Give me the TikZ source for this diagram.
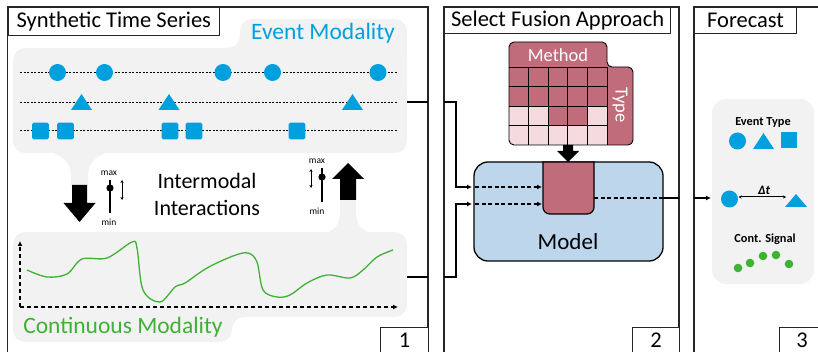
\documentclass[tikz,border=0pt]{standalone}
\usepackage{fontspec}
\setmainfont{Carlito}
\usetikzlibrary{arrows.meta}
\definecolor{evblue}{RGB}{0,160,223}
\definecolor{cgreen}{RGB}{62,178,50}
\definecolor{bggray}{RGB}{242,242,242}
\definecolor{mblue}{RGB}{190,214,236}
\definecolor{pdark}{RGB}{192,108,122}
\definecolor{plight}{RGB}{245,218,222}
\tikzset{
 panel/.style={line width=1.2pt, draw=black!85},
 titlebox/.style={draw=black!85, line width=1.2pt, fill=white, inner sep=0pt, anchor=north west, font=\fontsize{22.5}{26}\selectfont},
 evline/.style={dash pattern=on 2pt off 1.5pt, line width=0.7pt},
 bgfill/.style={fill=bggray},
 arr/.style={-{Latex[length=5pt,width=5pt]}, line width=1.1pt},
 darr/.style={-{Latex[length=5pt,width=5pt]}, line width=1.1pt, dash pattern=on 4pt off 2.5pt},
 axisline/.style={-{Latex[length=5pt,width=5pt]}, line width=1.1pt, dash pattern=on 4pt off 3pt},
 smalltxt/.style={font=\fontsize{9.5}{10}\selectfont, inner sep=0pt},
 dblarr/.style={{Stealth[length=3pt,width=3pt]}-{Stealth[length=3pt,width=3pt]}, line width=0.7pt},
 evtri/.pic={\fill[evblue] (-10.5,8)--(10.5,8)--(0,-8)--cycle;},
 evsq/.pic={\fill[evblue, rounded corners=1.5pt] (-8.3,-8.3) rectangle (8.3,8.3);},
 evcirc/.pic={\fill[evblue] (0,0) circle (8.5pt);},
}
\begin{document}
\begin{tikzpicture}[x=1pt,y=-1pt]
\useasboundingbox (0,0) rectangle (818,352);
\clip (0,0) rectangle (818,352);

% ---------- Panel 1 backgrounds ----------
\path[bgfill, rounded corners=12pt] (13,48) rectangle (407,153);
\path[bgfill, rounded corners=12pt] (240,19) rectangle (407,100);
\path[bgfill] (228,48) .. controls (234.6,48) and (240,42.6) .. (240,36) -- (240,48) -- cycle;
\path[bgfill] (40,150) .. controls (60,153) and (71,160) .. (71,176) -- (71,186) -- (88,186) -- (88,176) .. controls (88,160) and (99,153) .. (118,150) -- cycle;
\path[bgfill, rounded corners=12pt] (13,232) rectangle (407,317);
\path[bgfill, rounded corners=12pt] (13,290) rectangle (232,342);
\path[bgfill] (232,329) .. controls (232,322.4) and (237.4,317) .. (244,317) -- (232,317) -- cycle;
\path[bgfill] (320,235) .. controls (335,232) and (340,224) .. (340,212) -- (340,198) -- (356,198) -- (356,212) .. controls (356,224) and (361,232) .. (377,235) -- cycle;

\node[font=\fontsize{23.5}{26}\selectfont, text=evblue, inner sep=0pt] (evlabel) at (323,33) {Event Modality};
\node[font=\fontsize{23.5}{26}\selectfont, text=cgreen, inner sep=0pt] (ctlabel) at (123,327) {Continuous Modality};

\draw[evline] (20,72) -- (398,72);
\draw[evline] (20,102) -- (398,102);
\draw[evline] (20,130) -- (398,130);
\foreach \x in {57.5,104.5,223,272.5,378} \pic at (\x,72.5) {evcirc};
\foreach \x in {81.5,169,352.5} \pic at (\x,102) {evtri};
\foreach \x in {40.5,65.5,170,194,297} \pic at (\x,131) {evsq};

\coordinate (orig) at (20,307);
\coordinate (xend) at (398,307);
\coordinate (yend) at (20,241);
\draw[axisline] (orig) -- (xend);
\draw[axisline] (orig) -- (yend);
\draw[cgreen, line width=1.3pt] plot[smooth, tension=0.55] coordinates {
(27,270) (47,277) (67,274) (82,259) (107,258) (132,242) (137,248) (143,290) (160,302) (175,287) (185,283) (207,268) (233,256) (248,253) (257,262) (263,290) (277,297) (290,295) (307,283) (327,275) (350,278) (363,270) (377,257) (393,250)};

\fill (72,185) -- (87,185) -- (87,203) -- (95.5,203) -- (79.5,222) -- (63.5,203) -- (72,203) -- cycle;
\fill (340,200) -- (356,200) -- (356,179) -- (364,179) -- (348,163) -- (332,179) -- (340,179) -- cycle;

\draw[line width=2.4pt] (110,180) -- (110,213);
\fill (110,188) circle (3.6pt);
\draw[dblarr] (122,180) -- (122,200);
\node[smalltxt] (max1) at (109,173) {max};
\node[smalltxt] (min1) at (109,222) {min};
\draw[line width=2.4pt] (322,168) -- (322,202);
\fill (322,177) circle (3.6pt);
\draw[dblarr] (311,169) -- (311,188);
\node[smalltxt] (max2) at (317,161) {max};
\node[smalltxt] (min2) at (317,211) {min};

\node[font=\fontsize{22}{27}\selectfont, align=center, inner sep=0pt] (inter) at (207,194) {Intermodal\\Interactions};

% ---------- Panel borders ----------
\draw[panel] (7.5,360) -- (7.5,7) -- (428,7) -- (428,360);
\draw[panel] (444,360) -- (444,7) -- (679,7) -- (679,360);
\draw[panel] (694,360) -- (694,7) -- (830,7);
\node[titlebox, minimum width=211.5pt, minimum height=28pt] (t1) at (7.5,7) {Synthetic Time Series};
\node[titlebox, minimum width=226pt, minimum height=26pt] (t2) at (444,7) {Select Fusion Approach};
\node[titlebox, minimum width=102pt, minimum height=26pt] (t3) at (694,7) {Forecast};
\node[titlebox, minimum width=48pt, minimum height=26pt] (n1) at (380,327) {1};
\node[titlebox, minimum width=47pt, minimum height=26pt] (n2) at (632,327) {2};
\node[titlebox, minimum width=45pt, minimum height=26pt] (n3) at (779,327) {3};

% ---------- Panel 2 ----------
\begin{scope}
\path[clip, rounded corners=5pt] (509,67) -- (509,42) -- (607,42) -- (607,67) -- (633,67) -- (633,145) -- (509,145) -- cycle;
\fill[pdark] (500,30) rectangle (640,150);
\foreach \c in {0,1,4} \fill[plight] (509+19.6*\c,106) rectangle (509+19.6*\c+19.6,125.5);
\fill[plight] (509,125.5) rectangle (607,150);
\end{scope}
\foreach \k in {1,2,3,4} \draw[line width=0.9pt] (509+19.6*\k,67) -- (509+19.6*\k,145);
\foreach \j in {0,1,2,3} \draw[line width=0.9pt] (509,67+19.5*\j) -- (607,67+19.5*\j);
\draw[line width=0.9pt] (607,67) -- (607,145);
\draw[line width=0.9pt, rounded corners=5pt] (509,67) -- (509,42) -- (607,42) -- (607,67) -- (633,67) -- (633,145) -- (509,145) -- cycle;
\node[font=\fontsize{18.5}{20}\selectfont, text=white, inner sep=0pt] (method) at (558,55) {Method};
\node[font=\fontsize{18.5}{20}\selectfont, text=white, inner sep=0pt, rotate=-90] (type) at (620,105) {Type};

\fill (563,145) -- (573,145) -- (573,151) -- (579,151) -- (568,162) -- (557,151) -- (563,151) -- cycle;

\draw[fill=mblue, line width=1.3pt, rounded corners=14pt] (474,162) rectangle (663,261);
\draw[fill=pdark, line width=1.2pt] (543,162) -- (543,207) .. controls (543,211) and (546,214) .. (550,214) -- (587,214) .. controls (591,214) and (594,211) .. (594,207) -- (594,162) -- cycle;
\node[font=\fontsize{23}{26}\selectfont, inner sep=0pt] (model) at (568,242) {Model};

\coordinate (evR) at (407,102);
\coordinate (p1Ra) at (428,102);
\coordinate (ctR) at (407,277);
\coordinate (p1Rb) at (428,277);
\coordinate (p2La) at (444,102);
\coordinate (p2Lb) at (444,277);
\coordinate (inA) at (472,187);
\coordinate (inB) at (472,204);
\coordinate (mLa) at (475,187);
\coordinate (mLb) at (475,204);
\coordinate (fA) at (542,187);
\coordinate (fB) at (542,204);
\coordinate (fOut) at (594,198);
\coordinate (mR) at (663,198);
\coordinate (p2R) at (679,198);
\coordinate (p3L) at (694,198);
\coordinate (fcL) at (711,198);
\draw[line width=1.1pt] (evR) -- (p1Ra);
\draw[line width=1.1pt] (ctR) -- (p1Rb);
\draw[arr] (p2La) -- (456,102) |- (inA);
\draw[arr] (p2Lb) -- (456,277) |- (inB);
\draw[darr] (mLa) -- (fA);
\draw[darr] (mLb) -- (fB);
\draw[line width=1.1pt, dash pattern=on 4pt off 2.5pt] (fOut) -- (mR);
\draw[line width=1.1pt] (mR) -- (p2R);
\draw[arr] (p3L) -- (fcL);

% ---------- Panel 3 ----------
\path[bgfill, rounded corners=14pt] (712,99) rectangle (814,284);
\node[font=\bfseries\fontsize{12.3}{14}\selectfont, inner sep=0pt] (evtype) at (763,122) {Event Type};
\pic at (737.5,141) {evcirc};
\fill[evblue] (753,149) -- (774,149) -- (763.5,133) -- cycle;
\fill[evblue] (781,132) rectangle (797,148);
\fill[evblue] (729.5,199) circle (8.5pt);
\fill[evblue] (785,207) -- (807,207) -- (796,194) -- cycle;
\draw[dblarr, line width=1pt] (738.5,197) -- (786,197);
\node[font=\bfseries\itshape\fontsize{13}{15}\selectfont, inner sep=0pt] (dt) at (764,190) {Δt};
\node[font=\bfseries\fontsize{12.3}{14}\selectfont, inner sep=0pt] (cont) at (765,239) {Cont. Signal};
\foreach \p in {(738,268),(750,263),(763,256),(776,255),(789,264)} \fill[cgreen] \p circle (4.3pt);
\end{tikzpicture}
\end{document}
